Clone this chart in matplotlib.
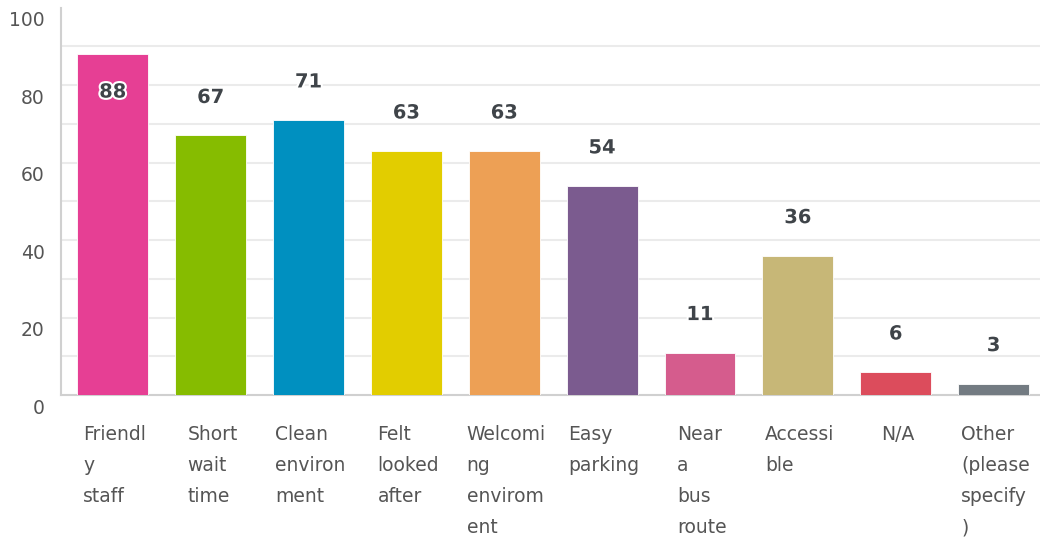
import matplotlib
matplotlib.use("Agg")
import matplotlib.pyplot as plt
import matplotlib.patheffects as pe
from matplotlib.transforms import ScaledTranslation, offset_copy

categories = ["Friendl\ny\nstaff", "Short\nwait\ntime", "Clean\nenviron\nment", "Felt\nlooked\nafter",
              "Welcomi\nng\nenvirom\nent", "Easy\nparking", "Near\na\nbus\nroute", "Accessi\nble", "N/A",
              "Other\n(please\nspecify\n)"]
values = [88, 67, 71, 63, 63, 54, 11, 36, 6, 3]
colors = ["#E63F94", "#86BC00", "#0090C0", "#E2CD00", "#EDA055", "#7B5B8F", "#D55C8D", "#C7B777",
          "#DC4C5C", "#737B82"]
y_ticks = [0, 20, 40, 60, 80, 100]

plt.rcParams['font.family'] = ['DejaVu Sans']

fig = plt.figure(figsize=(10.4, 5.37), dpi=100)
ax = fig.add_axes([0.059, 0.264, 0.941, 0.722])

x = list(range(len(values)))
ax.bar(x, values, width=0.725, color=colors, edgecolor="white", linewidth=0.6, zorder=3)

ax.set_ylim(0, 100)
ax.set_xlim(-0.526, 9.474)

# light gridlines every 10
for g in range(10, 100, 10):
    ax.axhline(g, color="#EBEBEB", linewidth=1.5, zorder=1)

ax.set_yticks(y_ticks)
ax.set_yticklabels([str(t) for t in y_ticks], fontsize=13.5, color="#555555")
ax.tick_params(axis="y", length=0, pad=12)
# tick labels sit a bit lower than their values in the reference
shift = ScaledTranslation(0, -11 / 100, fig.dpi_scale_trans)
for lab in ax.get_yticklabels():
    lab.set_transform(lab.get_transform() + shift)

ax.set_xticks([])
for s in ["top", "right"]:
    ax.spines[s].set_visible(False)
ax.spines["left"].set_color("#D0D0D0")
ax.spines["bottom"].set_color("#D0D0D0")
ax.spines["left"].set_linewidth(1.5)
ax.spines["bottom"].set_linewidth(1.5)

# category labels under bars
for xi, cat in zip(x, categories):
    t = offset_copy(ax.get_xaxis_transform(), fig=fig, x=2, y=-30, units="dots")
    ax.text(xi, 0, cat, transform=t, ha="center", va="top", multialignment="left",
            fontsize=13.5, color="#555555", linespacing=1.8)

# value labels
for xi, v in zip(x, values):
    dy = -38 if v > 80 else 38
    t = offset_copy(ax.transData, fig=fig, x=0, y=dy, units="dots")
    ax.text(xi, v, str(v), transform=t, ha="center", va="center", fontsize=14,
            fontweight="bold", color="#3F4449", zorder=5,
            path_effects=[pe.withStroke(linewidth=3, foreground="white")])

fig.savefig("out.png", dpi=100)
